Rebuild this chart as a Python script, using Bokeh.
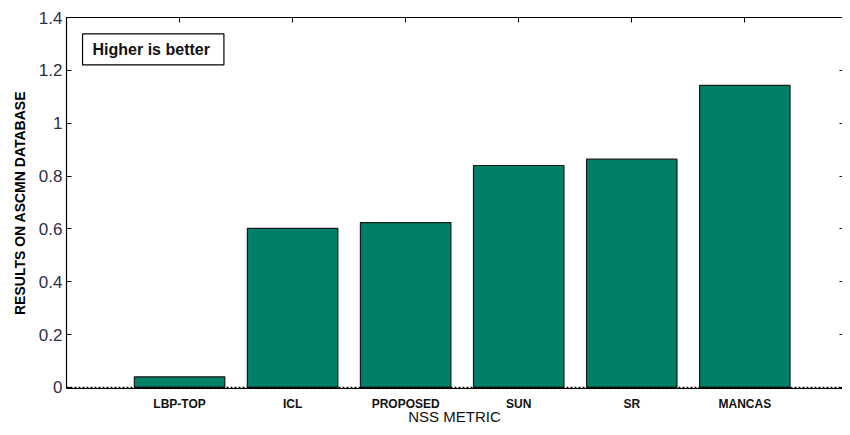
from bokeh.plotting import figure
from bokeh.models import Range1d, LinearAxis, FixedTicker, Span, Label
from bokeh.embed import file_html
from bokeh.resources import INLINE

categories = ["LBP-TOP", "ICL", "PROPOSED", "SUN", "SR", "MANCAS"]
values = [0.040, 0.602, 0.624, 0.840, 0.864, 1.143]
y_ticks = [0, 0.2, 0.4, 0.6, 0.8, 1, 1.2, 1.4]
x_title = "NSS METRIC"
y_title = "RESULTS ON ASCMN DATABASE"
note = "Higher is better"

xs = list(range(1, len(categories) + 1))

FONT = "Liberation Sans"

p = figure(width=842, height=427, output_backend="svg", toolbar_location=None,
           x_range=Range1d(0, 6.864), y_range=Range1d(-0.004, 1.4),
           min_border_left=66, min_border_top=17, min_border_bottom=39, min_border_right=0,
           x_axis_location=None, y_axis_location=None)
p.outline_line_color = None
p.xgrid.visible = False
p.ygrid.visible = False
p.background_fill_color = "white"
p.border_fill_color = "white"

p.vbar(x=xs, top=values, bottom=0, width=0.8, fill_color="#008066",
       line_color="#1a1a1a", line_width=1.2)

p.add_layout(Span(location=0, dimension="width", line_color="black",
                  line_dash="2 2", line_width=1.2))

# left axis
ya = LinearAxis(ticker=FixedTicker(ticks=y_ticks))
ya.major_tick_in = 5
ya.major_tick_out = 0
ya.minor_tick_line_color = None
ya.major_label_text_font = FONT
ya.major_label_text_font_size = "17px"
ya.major_label_text_color = "#2e2e48"
ya.major_label_standoff = 4
ya.axis_label = y_title
ya.axis_label_text_font = FONT
ya.axis_label_text_font_size = "14px"
ya.axis_label_text_font_style = "bold"
ya.axis_label_text_color = "black"
ya.axis_label_standoff = 8
ya.axis_line_width = 1.2
p.add_layout(ya, "left")

# bottom axis
xa = LinearAxis(ticker=FixedTicker(ticks=xs))
xa.major_label_overrides = {x: c for x, c in zip(xs, categories)}
xa.major_tick_in = 0
xa.major_tick_out = 0
xa.minor_tick_line_color = None
xa.major_label_text_font = FONT
xa.major_label_text_font_size = "12px"
xa.major_label_text_font_style = "bold"
xa.major_label_text_color = "#111111"
xa.major_label_standoff = 8
xa.axis_label = x_title
xa.axis_label_text_font = FONT
xa.axis_label_text_font_size = "15px"
xa.axis_label_text_font_style = "normal"
xa.axis_label_text_color = "#111111"
xa.axis_label_standoff = -6
xa.axis_line_width = 1.2
p.add_layout(xa, "below")

# top axis (ticks only)
ta = LinearAxis(ticker=FixedTicker(ticks=xs))
ta.major_tick_in = 5
ta.major_tick_out = 0
ta.minor_tick_line_color = None
ta.major_label_text_font_size = "0px"
ta.major_label_text_color = None
ta.major_label_standoff = 0
ta.axis_line_width = 1.2
p.add_layout(ta, "above")

# right axis (ticks only, line off-page)
ra = LinearAxis(ticker=FixedTicker(ticks=y_ticks))
ra.major_tick_in = 3
ra.major_tick_out = 0
ra.minor_tick_line_color = None
ra.major_label_text_font_size = "0px"
ra.major_label_text_color = None
ra.major_label_standoff = 0
ra.axis_line_color = None
p.add_layout(ra, "right")

p.add_layout(Label(x=0.142, y=1.338, text=note,
                   text_font=FONT, text_font_size="16px", text_font_style="bold",
                   text_color="#111111", text_align="left", text_baseline="top",
                   padding=dict(left=10, right=14, top=7, bottom=7),
                   border_line_color="black", border_line_width=1.2,
                   background_fill_color="white"))

open("out.html", "w").write(file_html(p, INLINE))
